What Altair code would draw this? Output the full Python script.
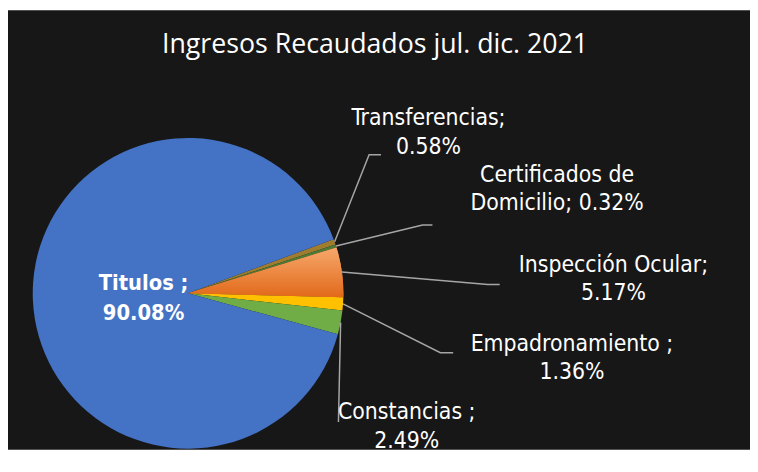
import math
import altair as alt
import pandas as pd

# ---- data ----
categories = ["Transferencias", "Certificados de Domicilio", "Inspección Ocular",
              "Empadronamiento", "Constancias", "Titulos"]
values = [0.58, 0.32, 5.17, 1.36, 2.49, 90.08]
label_texts = ["Transferencias;\n0.58%", "Certificados de\nDomicilio; 0.32%",
               "Inspección Ocular;\n5.17%", "Empadronamiento ;\n1.36%",
               "Constancias ;\n2.49%", "Titulos ;\n90.08%"]
colors = ["#A07D2E", "#4E7A35", "#ED7D31", "#FFC000", "#70AD47", "#4472C4"]
title_text = "Ingresos Recaudados jul. dic. 2021"

# ---- layout (reference px, converted to view px) ----
W, H = 750, 444
OX, OY = 8, 16  # offset from reference coords to view coords


def v(p):
    return (p[0] - OX, p[1] - OY)


CX, CY = v((190, 302))
R = 157
START_DEG = 69.6
start = math.radians(START_DEG)

label_pos = {  # centre x, first-line baseline
    "Transferencias": v((433, 132)),
    "Certificados de Domicilio": v((563, 189)),
    "Inspección Ocular": v((620, 280)),
    "Empadronamiento": v((578, 360)),
    "Constancias": v((411, 429)),
    "Titulos": v((145, 299)),
}
leader = {  # elbow, end
    "Transferencias": [v((373, 162)), v((385, 162))],
    "Certificados de Domicilio": [v((427, 233)), v((437, 233))],
    "Inspección Ocular": [v((493, 293)), v((505, 293))],
    "Empadronamiento": [v((445, 362)), v((458, 362))],
    "Constancias": [v((342, 432)), v((342, 432))],
}

df = pd.DataFrame({"category": categories, "value": values,
                   "idx": list(range(len(categories))), "label": label_texts})
df["lx"] = [label_pos[c][0] for c in categories]
df["ly"] = [label_pos[c][1] for c in categories]

# leader lines start at the slice's mid-angle on the rim
total = sum(values)
rows = []
cum = 0.0
for c, val in zip(categories, values):
    mid = start + 2 * math.pi * (cum + val / 2) / total
    cum += val
    if c in leader:
        pts = [(CX + R * math.sin(mid), CY - R * math.cos(mid))] + leader[c]
        for k, (px, py) in enumerate(pts):
            rows.append({"category": c, "k": k, "px": px, "py": py})
lines_df = pd.DataFrame(rows)

xs = alt.Scale(domain=[0, W], range=[0, W], nice=False, zero=False)
ys = alt.Scale(domain=[0, H], range=[0, H], nice=False, zero=False)

theta = alt.Theta("value:Q", stack=True,
                  scale=alt.Scale(range=[start, start + 2 * math.pi]))
color = alt.Color("category:N", scale=alt.Scale(domain=categories, range=colors), legend=None)

base = alt.Chart(df)
pie = base.mark_arc(outerRadius=R).encode(
    theta=theta, color=color, order=alt.Order("idx:Q"),
    x=alt.value(CX), y=alt.value(CY))

grad = alt.LinearGradient(gradient="linear",
                          stops=[alt.GradientStop(offset=0, color="#F6A86C"),
                                 alt.GradientStop(offset=1, color="#E2691A")],
                          x1=0, y1=0, x2=0, y2=1)
pie_grad = base.mark_arc(outerRadius=R, fill=grad).encode(
    theta=theta, order=alt.Order("idx:Q"),
    fillOpacity=alt.condition(alt.datum.category == "Inspección Ocular",
                              alt.value(1), alt.value(0)),
    x=alt.value(CX), y=alt.value(CY))

lines = alt.Chart(lines_df).mark_line(color="#A6A6A6", strokeWidth=1.5).encode(
    x=alt.X("px:Q", scale=xs, axis=None),
    y=alt.Y("py:Q", scale=ys, axis=None),
    detail="category:N", order="k:Q")

font = "DejaVu Sans Condensed, Liberation Sans, sans-serif"
labels = base.transform_filter(alt.datum.category != "Titulos").mark_text(
    font=font, fontSize=23, color="#FFFFFF", align="center", baseline="alphabetic",
    lineBreak="\n", lineHeight=29).encode(
    x=alt.X("lx:Q", scale=xs, axis=None), y=alt.Y("ly:Q", scale=ys, axis=None),
    text="label:N")
label_t = base.transform_filter(alt.datum.category == "Titulos").mark_text(
    font=font, fontSize=22, fontWeight="bold", color="#FFFFFF", align="center",
    baseline="alphabetic", lineBreak="\n", lineHeight=30).encode(
    x=alt.X("lx:Q", scale=xs, axis=None), y=alt.Y("ly:Q", scale=ys, axis=None),
    text="label:N")

tx, ty = v((379, 59))
title = alt.Chart(pd.DataFrame({"t": [title_text]})).mark_text(
    font="Open Sans", fontSize=27, color="#FFFFFF", align="center",
    baseline="alphabetic").encode(x=alt.value(tx), y=alt.value(ty), text="t:N")

chart = alt.layer(pie, pie_grad, lines, labels, label_t, title).properties(
    width=W, height=H, background="#FFFFFF",
    padding={"left": 0, "top": 0, "right": 0, "bottom": 0},
    autosize=alt.AutoSizeParams(type="none"),
).configure_view(fill="#171717", stroke=None)

chart.save("out.html", embed_options={"renderer": "svg", "actions": False})
